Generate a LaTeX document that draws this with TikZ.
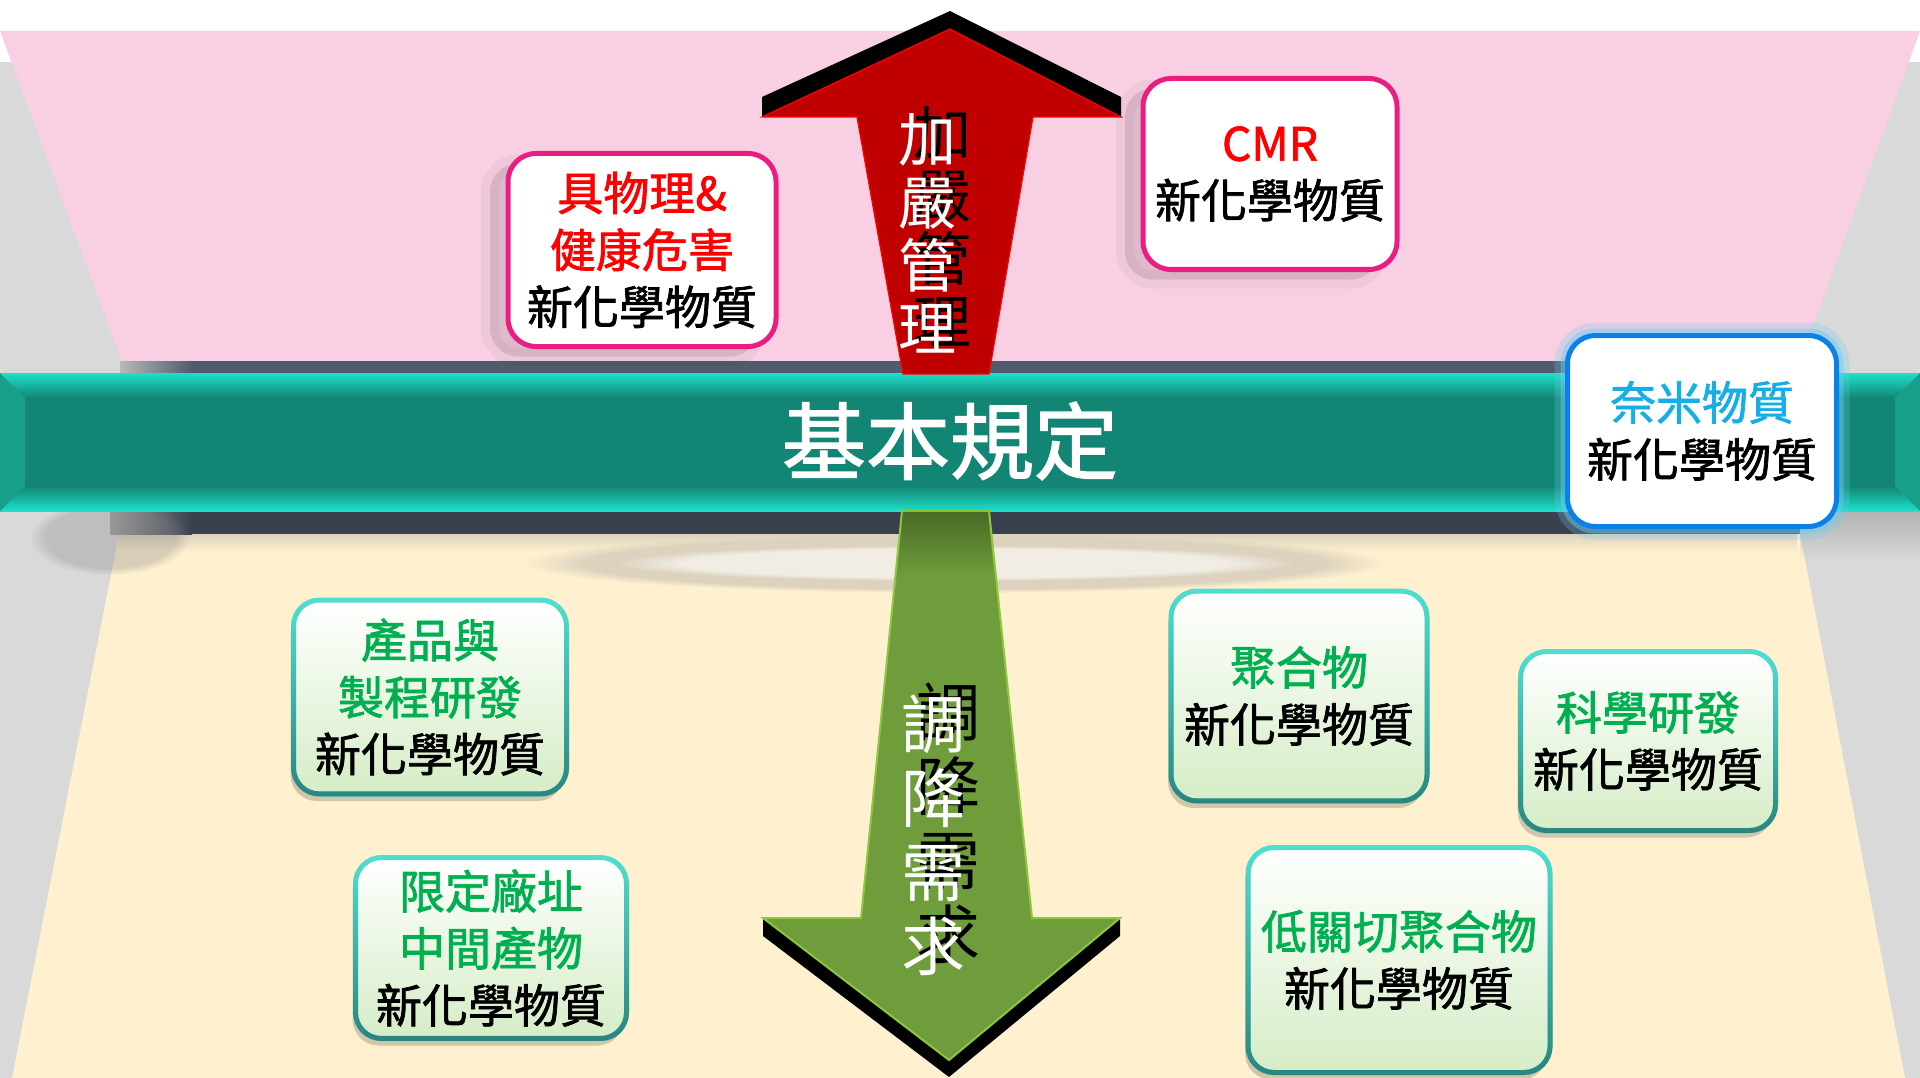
\documentclass[tikz,border=0pt]{standalone}
\usepackage{fontspec}
\usetikzlibrary{fadings,shadows}
\newfontfamily\cjk{Noto Sans CJK TC}
\newfontfamily\cjkmid[FakeBold=1.6]{Noto Sans CJK TC}
\newcommand{\cardfont}{\cjkmid\fontsize{46}{57}\selectfont}

\definecolor{pinkbg}{HTML}{F9D0E3}
\definecolor{sidegray}{HTML}{D9D9D9}
\definecolor{beige}{HTML}{FFF1D0}
\definecolor{shadetan}{HTML}{DCD2BE}
\definecolor{slatetop}{HTML}{505B6E}
\definecolor{slatebot}{HTML}{39414F}
\definecolor{tealmid}{HTML}{128574}
\definecolor{teallight}{HTML}{1EE0C8}
\definecolor{tealside}{HTML}{19A08B}
\definecolor{arrowred}{HTML}{C00000}
\definecolor{arrowgreen}{HTML}{6F9D3B}
\definecolor{greenedge}{HTML}{8DC63F}
\definecolor{greendark}{HTML}{4A6B26}
\definecolor{boxpink}{HTML}{EA1E80}
\definecolor{boxblue}{HTML}{0A80E8}
\definecolor{glowblue}{HTML}{6CCBF2}
\definecolor{gline}{HTML}{4FE0D2}
\definecolor{glinedark}{HTML}{2A8580}
\definecolor{gfill}{HTML}{D5EDC6}
\definecolor{txtred}{HTML}{FF0000}
\definecolor{txtcyan}{HTML}{16AEE6}
\definecolor{txtgreen}{HTML}{00B050}

\begin{document}
\begin{tikzpicture}[
  x=1pt, y=-1pt,
  pinkcard/.style={rounded corners=28, draw=boxpink, line width=5, fill=white,
    inner sep=0, align=center, font=\cardfont,
    general shadow={fill=black, opacity=.10, shadow xshift=-18pt, shadow yshift=-10pt},
    general shadow={draw=black, line width=18, opacity=.04, shadow xshift=-18pt, shadow yshift=-10pt}},
  bluecard/.style={rounded corners=28, draw=boxblue, line width=5, fill=white,
    inner sep=0, align=center, font=\cardfont,
    general shadow={draw=glowblue, line width=26, opacity=.25, shadow xshift=0pt, shadow yshift=0pt},
    general shadow={draw=glowblue, line width=14, opacity=.45, shadow xshift=0pt, shadow yshift=0pt}},
  greencard/.style={rounded corners=26, draw=gline, line width=5, top color=white, bottom color=gfill,
    inner sep=0, align=center, font=\cardfont,
    general shadow={fill=black, opacity=.18, shadow xshift=-3pt, shadow yshift=-7pt},
    postaction={draw=glinedark, line width=5, path fading=north}},
  arrowtext/.style={inner sep=0, align=center},
]
%\draw[help lines, step=100] (0,0) grid (1920,1078);
\useasboundingbox (0,0) rectangle (1920,1078);
\fill[white] (0,0) rectangle (1920,1078);
\fill[sidegray] (0,62) rectangle (1920,1078);
\fill[pinkbg] (0,31) -- (1920,31) -- (1800,361) -- (122,361) -- cycle;
\fill[beige] (119,534) -- (1800,534) -- (1905,1078) -- (12,1078) -- cycle;
\fill[shadetan, path fading=south] (119,534) rectangle (1800,552);

% slate edges of the band
\fill[slatetop] (192,361) rectangle (1800,373);
\shade[left color=sidegray!85!black, right color=slatetop] (120,361) rectangle (192,373);
\fill[slatebot] (192,511) rectangle (1800,534);
\shade[left color=sidegray!75!black, right color=slatebot] (110,511) rectangle (192,534);
\fill[black!50, opacity=.3, path fading=circle with fuzzy edge 20 percent] (30,500) rectangle (190,575);
\fill[black!40, opacity=.6, path fading=south] (1800,511) rectangle (1920,560);

% shadow under the band
\fill[shadetan, path fading=circle with fuzzy edge 15 percent] (955,563) ellipse [x radius=432, y radius=30];
\fill[white, opacity=.6, path fading=circle with fuzzy edge 20 percent] (955,563) ellipse [x radius=340, y radius=18];

% band
\fill[tealmid] (0,373) rectangle (1920,511);
\shade[top color=teallight, bottom color=tealmid] (0,373) rectangle (1920,398);
\shade[top color=tealmid, bottom color=teallight] (0,486) rectangle (1920,511);
\fill[tealside] (0,373) -- (25,398) -- (25,486) -- (0,511) -- cycle;
\fill[tealside] (1920,373) -- (1895,398) -- (1895,486) -- (1920,511) -- cycle;

% arrows
\fill (762,97) -- (950,11) -- (1121,97) -- (1121,117) -- (950,29) -- (762,117) -- cycle;
\filldraw[fill=arrowred, draw=red, line width=1.2] (950,29) -- (1121,117) -- (1033,117) -- (989,374)
  -- (903,374) -- (857,117) -- (762,117) -- cycle;
\fill (763,918) -- (763,936) -- (949,1077) -- (1120,936) -- (1120,918) -- (949,1060) -- cycle;
\filldraw[fill=arrowgreen, draw=greenedge, line width=2] (902,511) -- (989,511) -- (1032,918) -- (1120,918)
  -- (949,1060) -- (763,918) -- (861,918) -- cycle;
\fill[greendark, path fading=south] (903,512) -- (988,512) -- (994,575) -- (897,575) -- cycle;

\node[arrowtext, font=\cjk\fontsize{58}{63}\selectfont, text=black] (tightenshadow) at (942,226) {加\\嚴\\管\\理};
\node[arrowtext, font=\cjk\fontsize{58}{63}\selectfont, text=white] (tighten) at (927,233) {加\\嚴\\管\\理};
\node[arrowtext, font=\cjk\fontsize{64}{74}\selectfont, text=black] (relaxshadow) at (948,823) {調\\降\\需\\求};
\node[arrowtext, font=\cjk\fontsize{64}{74}\selectfont, text=white] (relax) at (933,835) {調\\降\\需\\求};

% cards
\node[pinkcard, minimum width=268, minimum height=193] (hazard) at (642,250)
  {{\color{txtred}具物理\&}\\{\color{txtred}健康危害}\\新化學物質};
\node[pinkcard, minimum width=254, minimum height=191] (cmr) at (1270,174)
  {{\color{txtred}CMR}\\新化學物質};
\node[bluecard, minimum width=269, minimum height=191] (nano) at (1702,431)
  {{\color{txtcyan}奈米物質}\\新化學物質};
\node[greencard, minimum width=273, minimum height=194] (rnd) at (430,697)
  {{\color{txtgreen}產品與}\\{\color{txtgreen}製程研發}\\新化學物質};
\node[greencard, minimum width=271, minimum height=181] (site) at (491,948)
  {{\color{txtgreen}限定廠址}\\{\color{txtgreen}中間產物}\\新化學物質};
\node[greencard, minimum width=256, minimum height=210] (polymer) at (1299,696)
  {{\color{txtgreen}聚合物}\\新化學物質};
\node[greencard, minimum width=255, minimum height=179] (science) at (1648,741)
  {{\color{txtgreen}科學研發}\\新化學物質};
\node[greencard, minimum width=302, minimum height=225] (lowpoly) at (1399,960)
  {{\color{txtgreen}低關切聚合物}\\新化學物質};

\node[inner sep=0, font=\cjkmid\fontsize{84}{90}\selectfont, text=white] (basic) at (950,441) {基本規定};
\end{tikzpicture}
\end{document}
